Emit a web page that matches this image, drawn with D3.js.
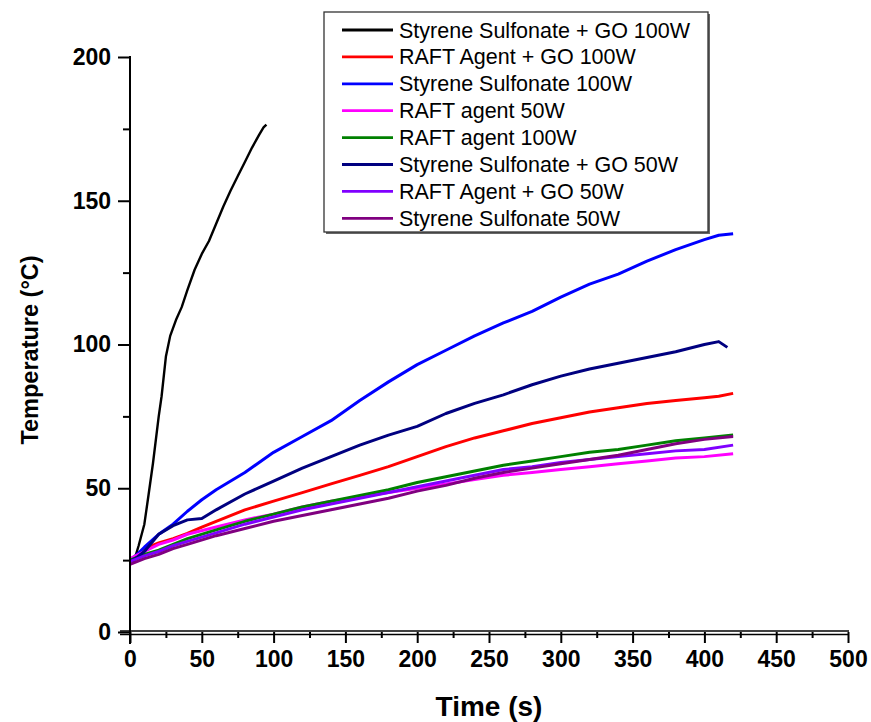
<!DOCTYPE html>
<html>
<head>
<meta charset="utf-8">
<script src="https://cdn.jsdelivr.net/npm/d3@7"></script>
<style>
  html, body { margin: 0; padding: 0; background: #fff; }
  svg { display: block; font-family: "Liberation Sans", Arial, sans-serif; }
</style>
</head>
<body>
<svg id="chart" width="871" height="722"></svg>
<script>
// ---------------- data ----------------
const seriesNames = [
  "Styrene Sulfonate + GO 100W",
  "RAFT Agent + GO 100W",
  "Styrene Sulfonate 100W",
  "RAFT agent 50W",
  "RAFT agent 100W",
  "Styrene Sulfonate + GO 50W",
  "RAFT Agent + GO 50W",
  "Styrene Sulfonate 50W"
];
const seriesColors = ["#000000", "#ff0000", "#0000ff", "#ff00ff", "#008000", "#000080", "#8000ff", "#800080"];

const timeSSGO100 = [2, 3, 6, 10, 13, 16, 20, 22, 25, 28, 32, 36, 40, 45, 50, 55, 60, 65, 70, 75, 80, 85, 90, 93, 95];
const tempSSGO100 = [24, 25, 30, 37.5, 48, 58.7, 75, 82, 95.8, 103, 108.5, 113, 119, 126, 131.5, 136, 142, 148, 153.5, 158.5, 163.5, 168.5, 173, 175.5, 176.5];

const timeRAFTGO100 = [0, 5, 10, 20, 30, 40, 50, 60, 80, 100, 120, 140, 160, 180, 200, 220, 240, 260, 280, 300, 320, 340, 360, 380, 400, 410, 420];
const tempRAFTGO100 = [25, 26.5, 29, 31, 32.5, 34.3, 36.5, 38.5, 42.5, 45.5, 48.5, 51.5, 54.5, 57.5, 61, 64.5, 67.5, 70, 72.5, 74.5, 76.5, 78, 79.5, 80.5, 81.5, 82, 83];

const timeSS100 = [0, 5, 10, 20, 30, 40, 50, 60, 80, 100, 120, 140, 160, 180, 200, 220, 240, 260, 280, 300, 320, 340, 360, 380, 400, 410, 420];
const tempSS100 = [25, 27, 29.5, 34, 37.5, 42, 46, 49.5, 55.5, 62.5, 68, 73.5, 80.5, 87, 93, 98, 103, 107.5, 111.5, 116.5, 121, 124.5, 129, 133, 136.5, 138, 138.5];

const timeRAFT50 = [0, 10, 20, 30, 40, 60, 80, 100, 120, 140, 160, 180, 200, 220, 240, 260, 280, 300, 320, 340, 360, 380, 400, 420];
const tempRAFT50 = [25.5, 28, 30.5, 32, 34, 36.5, 39, 41, 43.5, 45.5, 47, 48.5, 50, 51.5, 53, 54.5, 55.5, 56.5, 57.5, 58.5, 59.5, 60.5, 61, 62];

const timeRAFT100 = [0, 10, 20, 30, 40, 60, 80, 100, 120, 140, 160, 180, 200, 220, 240, 260, 280, 300, 320, 340, 360, 380, 400, 420];
const tempRAFT100 = [25, 27, 28.5, 30.5, 32.5, 35.5, 38.5, 41, 43.5, 45.5, 47.5, 49.5, 52, 54, 56, 58, 59.5, 61, 62.5, 63.5, 65, 66.5, 67.5, 68.5];

const timeSSGO50 = [0, 5, 10, 20, 30, 40, 50, 60, 80, 100, 120, 140, 160, 180, 200, 220, 240, 260, 280, 300, 320, 340, 360, 380, 400, 410, 416];
const tempSSGO50 = [24.5, 26, 28, 34, 37, 39, 39.5, 42.5, 48, 52.5, 57, 61, 65, 68.5, 71.5, 76, 79.5, 82.5, 86, 89, 91.5, 93.5, 95.5, 97.5, 100, 101, 99];

const timeRAFTGO50 = [0, 10, 20, 30, 40, 60, 80, 100, 120, 140, 160, 180, 200, 220, 240, 260, 280, 300, 320, 340, 360, 380, 400, 420];
const tempRAFTGO50 = [24.5, 26.5, 28, 30, 31.5, 34.5, 37.5, 40, 42.5, 44.5, 46.5, 48.5, 50.5, 52.5, 54.5, 56.5, 57.5, 59, 60, 61, 62, 63, 63.5, 65];

const timeSS50 = [0, 10, 20, 30, 40, 60, 80, 100, 120, 140, 160, 180, 200, 220, 240, 260, 280, 300, 320, 340, 360, 380, 400, 420];
const tempSS50 = [23.5, 25.5, 27, 29, 30.5, 33.5, 36, 38.5, 40.5, 42.5, 44.5, 46.5, 49, 51, 53.5, 55.5, 57, 58.5, 60, 61.5, 63.5, 65.5, 67, 68];

const xTickValues = [0, 50, 100, 150, 200, 250, 300, 350, 400, 450, 500];
const yTickValues = [0, 50, 100, 150, 200];
const xTitle = "Time (s)";
const yTitle = "Temperature (°C)";

const seriesTimes = [timeSSGO100, timeRAFTGO100, timeSS100, timeRAFT50, timeRAFT100, timeSSGO50, timeRAFTGO50, timeSS50];
const seriesTemps = [tempSSGO100, tempRAFTGO100, tempSS100, tempRAFT50, tempRAFT100, tempSSGO50, tempRAFTGO50, tempSS50];

// ---------------- drawing ----------------
const svg = d3.select("#chart");
const x = d3.scaleLinear().domain([0, 500]).range([130, 848]);
const y = d3.scaleLinear().domain([0, 200]).range([632, 57]);

// series
const line = d3.line().x(d => x(d[0])).y(d => y(d[1]));
const gLines = svg.append("g");
seriesNames.forEach((name, i) => {
  const pts = seriesTimes[i].map((t, j) => [t, seriesTemps[i][j]]);
  gLines.append("path")
    .attr("d", line(pts))
    .attr("fill", "none")
    .attr("stroke", seriesColors[i])
    .attr("stroke-width", i === 0 ? 2.4 : 3)
    .attr("stroke-linejoin", "round");
});

// axes
const minorX = d3.range(25, 500, 50);
const minorY = d3.range(25, 200, 50);

const xAxis = svg.append("g").attr("transform", `translate(0,${y(0)})`)
  .call(d3.axisBottom(x).tickValues(xTickValues).tickSize(11).tickSizeOuter(0).tickPadding(8));
xAxis.select(".domain").remove();
xAxis.selectAll(".tick line").attr("stroke", "#000").attr("stroke-width", 2);
xAxis.selectAll(".tick text").attr("font-size", 23).attr("font-weight", "bold").attr("fill", "#000");
svg.append("g").attr("transform", `translate(0,${y(0)})`)
  .call(d3.axisBottom(x).tickValues(minorX).tickSize(6).tickFormat(""))
  .call(g => g.select(".domain").remove())
  .selectAll(".tick line").attr("stroke", "#000").attr("stroke-width", 2);
// doubled baseline
svg.append("line").attr("x1", 120).attr("x2", x(500) + 1).attr("y1", y(0) - 1).attr("y2", y(0) - 1)
  .attr("stroke", "#000").attr("stroke-width", 1.6);
svg.append("line").attr("x1", 120).attr("x2", x(500) + 1).attr("y1", y(0) + 2.5).attr("y2", y(0) + 2.5)
  .attr("stroke", "#000").attr("stroke-width", 1.4);

const yAxis = svg.append("g").attr("transform", `translate(${x(0)},0)`)
  .call(d3.axisLeft(y).tickValues(yTickValues).tickSize(12).tickSizeOuter(0).tickPadding(7));
yAxis.select(".domain").remove();
yAxis.selectAll(".tick line").attr("stroke", "#000").attr("stroke-width", 2);
yAxis.selectAll(".tick text").attr("font-size", 23).attr("font-weight", "bold").attr("fill", "#000");
svg.append("g").attr("transform", `translate(${x(0)},0)`)
  .call(d3.axisLeft(y).tickValues(minorY).tickSize(7).tickFormat(""))
  .call(g => g.select(".domain").remove())
  .selectAll(".tick line").attr("stroke", "#000").attr("stroke-width", 2);
svg.append("line").attr("x1", x(0)).attr("x2", x(0)).attr("y1", y(200) - 1).attr("y2", y(0) + 12)
  .attr("stroke", "#000").attr("stroke-width", 2);

// titles
svg.append("text").attr("x", 489).attr("y", 716).attr("text-anchor", "middle")
  .attr("font-size", 28).attr("font-weight", "bold").attr("fill", "#000").text(xTitle);
svg.append("text").attr("transform", "translate(38,350) rotate(-90)").attr("text-anchor", "middle")
  .attr("font-size", 23.5).attr("font-weight", "bold").attr("fill", "#000").text(yTitle);

// legend
const lg = svg.append("g");
lg.append("rect").attr("x", 326).attr("y", 14).attr("width", 384).attr("height", 220).attr("fill", "#666");
lg.append("rect").attr("x", 324).attr("y", 12).attr("width", 384).attr("height", 220)
  .attr("fill", "#fff").attr("stroke", "#333").attr("stroke-width", 1.3);
seriesNames.forEach((name, i) => {
  const cy = 30 + i * 26.9;
  lg.append("line").attr("x1", 342).attr("x2", 393).attr("y1", cy).attr("y2", cy)
    .attr("stroke", seriesColors[i]).attr("stroke-width", 2.8);
  lg.append("text").attr("x", 399).attr("y", cy).attr("dy", "0.35em")
    .attr("font-size", 21.5).attr("fill", "#000").text(name);
});
</script>
</body>
</html>
